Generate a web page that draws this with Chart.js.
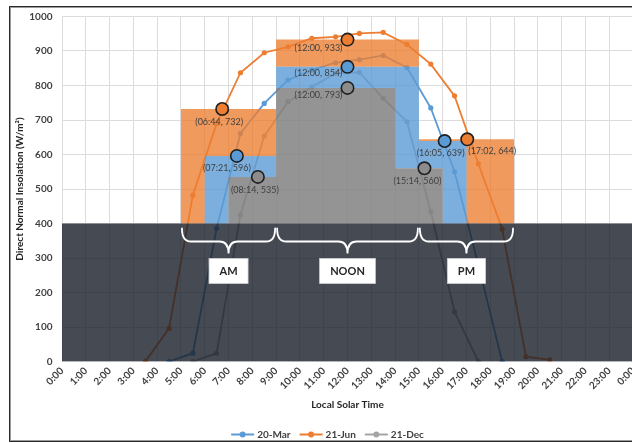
<!DOCTYPE html>
<html>
<head>
<meta charset="utf-8">
<script src="https://cdn.jsdelivr.net/npm/chart.js@4.4.1/dist/chart.umd.min.js"></script>
<style>
  html, body { margin: 0; padding: 0; overflow: hidden; background: #fff; }
  #wrap { position: relative; width: 655px; height: 443px; }
</style>
</head>
<body>
<div id="wrap"><canvas id="chart" width="655" height="443"></canvas></div>
<script>
// Direct normal insolation (W/m²) sampled at the half hour, local solar time
const junHours  = [3.5, 4.5, 5.5, 6.5, 7.5, 8.5, 9.5, 10.5, 11.5, 12.5, 13.5, 14.5, 15.5, 16.5, 17.5, 18.5, 19.5, 20.5];
const junValues = [0, 96, 482, 690, 837, 895, 912, 937, 941, 951, 954, 919, 862, 770, 573, 384, 14, 5];

const marHours  = [4.5, 5.5, 6.5, 7.5, 8.5, 9.5, 10.5, 11.5, 12.5, 13.5, 14.5, 15.5, 16.5, 17.5, 18.5];
const marValues = [0, 24, 386, 661, 748, 816, 845, 866, 875, 887, 852, 735, 550, 280, 0];

const decHours  = [5.5, 6.5, 7.5, 8.5, 9.5, 10.5, 11.5, 12.5, 13.5, 14.5, 15.5, 16.5, 17.5];
const decValues = [0, 24, 425, 653, 753, 796, 835, 838, 763, 695, 434, 144, 0];

// Operating blocks (AM / NOON / PM): start hour, end hour, insolation level
const periodNames = ['AM', 'NOON', 'PM'];
const junStart = [5, 9, 15];  const junEnd = [9, 15, 19];  const junLevel = [732, 933, 644];
const marStart = [6, 9, 15];  const marEnd = [9, 15, 17];  const marLevel = [596, 854, 639];
const decStart = [7, 9, 14];  const decEnd = [9, 14, 16];  const decLevel = [535, 793, 560];

// Time at which each day meets its block level
const junTimes = ['06:44', '12:00', '17:02'];
const marTimes = ['07:21', '12:00', '16:05'];
const decTimes = ['08:14', '12:00', '15:14'];

// Insolation below this level is shaded out
const shadeLevel = 400;

const hourLabels = ['0:00', '1:00', '2:00', '3:00', '4:00', '5:00', '6:00', '7:00', '8:00', '9:00', '10:00', '11:00',
  '12:00', '13:00', '14:00', '15:00', '16:00', '17:00', '18:00', '19:00', '20:00', '21:00', '22:00', '23:00', '0:00'];

const seriesNames = ['20-Mar', '21-Jun', '21-Dec'];

const BLUE = '#5B9BD5', ORANGE = '#ED7D31', GRAY = '#A5A5A5';
const FONT = 'Lato, "Open Sans", "Liberation Sans", sans-serif';

const toHours = t => { const [h, m] = t.split(':').map(Number); return h + m / 60; };
const pts = (xs, ys) => xs.map((x, i) => ({ x, y: ys[i] }));

// Level markers: June, March, December in that order
const markerTimes  = [...junTimes, ...marTimes, ...decTimes];
const markerLevels = [...junLevel, ...marLevel, ...decLevel];
const markerColors = [ORANGE, ORANGE, ORANGE, BLUE, BLUE, BLUE, '#8C8C8C', '#8C8C8C', '#8C8C8C'];
const markerPoints = markerTimes.map((t, i) => ({ x: toHours(t), y: markerLevels[i] }));
// label placement around each marker
const labelPlace = [
  { align: 'center', dx: -3, dy: 13 }, { align: 'right', dx: -5, dy: 8.5 }, { align: 'left', dx: 1, dy: 12 },
  { align: 'center', dx: -10, dy: 12.5 }, { align: 'right', dx: -5, dy: 6 }, { align: 'center', dx: -4, dy: 12.5 },
  { align: 'center', dx: -3, dy: 13 }, { align: 'right', dx: -5, dy: 7.5 }, { align: 'center', dx: -7, dy: 12.5 }
];

const MARKER_INDEX = 3;

function lineSeries(label, xs, ys, color) {
  return {
    label, data: pts(xs, ys), borderColor: color, backgroundColor: color,
    borderWidth: 1.8, pointRadius: 2.6, pointBorderWidth: 0, pointBackgroundColor: color,
    tension: 0, order: 5
  };
}

// Shaded blocks and the low-insolation band, painted over the curves
const blocksPlugin = {
  id: 'blocks',
  beforeDatasetDraw(chart, args) {
    if (args.index !== MARKER_INDEX) return;
    const { ctx, chartArea: a, scales: { x, y } } = chart;
    const px = v => x.getPixelForValue(v), py = v => y.getPixelForValue(v);
    const block = (start, end, level) => {
      ctx.moveTo(px(start[0]), py(shadeLevel));
      start.forEach((s, i) => {
        ctx.lineTo(px(s), py(level[i]));
        ctx.lineTo(px(end[i]), py(level[i]));
      });
      ctx.lineTo(px(end[end.length - 1]), py(shadeLevel));
      ctx.closePath();
    };
    ctx.save();
    ctx.beginPath();
    ctx.rect(a.left, a.top, a.right - a.left, a.bottom - a.top);
    ctx.clip();

    ctx.fillStyle = 'rgba(237,125,49,0.78)';
    ctx.beginPath(); block(junStart, junEnd, junLevel); block(marStart, marEnd, marLevel); ctx.fill('evenodd');
    ctx.fillStyle = 'rgba(91,155,213,0.8)';
    ctx.beginPath(); block(marStart, marEnd, marLevel); block(decStart, decEnd, decLevel); ctx.fill('evenodd');
    ctx.fillStyle = 'rgba(128,128,128,0.84)';
    ctx.beginPath(); block(decStart, decEnd, decLevel); ctx.fill();

    ctx.fillStyle = 'rgba(22,29,40,0.8)';
    const x0 = px(x.min), x1 = px(x.max);
    ctx.fillRect(x0, py(shadeLevel), x1 - x0, py(0) - py(shadeLevel));
    ctx.restore();
  }
};

// Braces with AM / NOON / PM tags, marker labels
const annotatePlugin = {
  id: 'annotate',
  afterDatasetsDraw(chart) {
    const { ctx, scales: { x, y } } = chart;
    const px = v => x.getPixelForValue(v), py = v => y.getPixelForValue(v);
    ctx.save();

    // braces span the widest (June) blocks
    const yTop = py(shadeLevel) + 5, yMid = yTop + 13, yTip = yMid + 12, r = 9;
    ctx.lineCap = 'round';
    periodNames.forEach((name, i) => {
      const xa = px(junStart[i]) + 1, xb = px(junEnd[i]) - 1, xc = (xa + xb) / 2;
      ctx.strokeStyle = '#FFFFFF';
      ctx.lineWidth = 1.8;
      ctx.beginPath();
      ctx.moveTo(xa, yTop);
      ctx.quadraticCurveTo(xa, yMid, xa + r, yMid);
      ctx.lineTo(xc - r, yMid);
      ctx.quadraticCurveTo(xc, yMid, xc, yTip);
      ctx.quadraticCurveTo(xc, yMid, xc + r, yMid);
      ctx.lineTo(xb - r, yMid);
      ctx.quadraticCurveTo(xb, yMid, xb, yTop);
      ctx.stroke();

      ctx.font = 'bold 11px ' + FONT;
      const w = ctx.measureText(name).width + 21, h = 25, bt = yTip + 5;
      ctx.fillStyle = '#FFFFFF';
      ctx.fillRect(xc - w / 2, bt, w, h);
      ctx.strokeStyle = '#D0D0D0';
      ctx.lineWidth = 0.8;
      ctx.strokeRect(xc - w / 2, bt, w, h);
      ctx.fillStyle = '#262626';
      ctx.textAlign = 'center';
      ctx.textBaseline = 'middle';
      ctx.fillText(name, xc, bt + h / 2 + 0.5);
    });

    // marker labels
    ctx.font = '9px ' + FONT;
    ctx.fillStyle = '#404040';
    ctx.textBaseline = 'middle';
    markerPoints.forEach((p, i) => {
      const pl = labelPlace[i];
      ctx.textAlign = pl.align;
      ctx.fillText('(' + markerTimes[i] + ', ' + markerLevels[i] + ')', px(p.x) + pl.dx, py(p.y) + pl.dy);
    });
    ctx.restore();
  },
  afterDraw(chart) {
    const { ctx } = chart;
    ctx.save();
    // legend
    const cols = [BLUE, ORANGE, GRAY];
    ctx.font = 'bold 10px ' + FONT;
    const lineLen = 23, gap = 3, itemGap = 9;
    const widths = seriesNames.map(n => lineLen + gap + ctx.measureText(n).width);
    const total = widths.reduce((s, w) => s + w, 0) + itemGap * (widths.length - 1);
    let cx = chart.width / 2 - total / 2;
    const ly = 434.5;
    seriesNames.forEach((n, i) => {
      ctx.strokeStyle = cols[i];
      ctx.lineWidth = 2;
      ctx.beginPath(); ctx.moveTo(cx, ly); ctx.lineTo(cx + lineLen, ly); ctx.stroke();
      ctx.fillStyle = cols[i];
      ctx.beginPath(); ctx.arc(cx + lineLen / 2, ly, 3, 0, Math.PI * 2); ctx.fill();
      ctx.fillStyle = '#404040';
      ctx.textAlign = 'left';
      ctx.textBaseline = 'middle';
      ctx.fillText(n, cx + lineLen + gap, ly);
      cx += widths[i] + itemGap;
    });
    // chart frame
    ctx.strokeStyle = '#2b2b2b';
    ctx.lineWidth = 1;
    ctx.strokeRect(9.5, 6.5, chart.width - 19, 435);
    ctx.strokeStyle = '#9a9a9a';
    ctx.strokeRect(10.5, 7.5, chart.width - 21, 433);
    ctx.restore();
  }
};

new Chart(document.getElementById('chart'), {
  type: 'line',
  data: {
    datasets: [
      lineSeries(seriesNames[0], marHours, marValues, BLUE),
      lineSeries(seriesNames[1], junHours, junValues, ORANGE),
      lineSeries(seriesNames[2], decHours, decValues, GRAY),
      {
        label: 'levels', data: markerPoints, showLine: false,
        pointRadius: 6.2, pointBorderWidth: 1.6, pointBorderColor: '#1f1f1f',
        pointBackgroundColor: markerColors, order: 0
      }
    ]
  },
  options: {
    responsive: false,
    animation: false,
    events: [],
    layout: { padding: { left: 12, top: 16.5, right: 22, bottom: 30 } },
    plugins: { legend: { display: false }, tooltip: { enabled: false } },
    scales: {
      x: {
        type: 'linear', min: 0, max: 24,
        afterFit: s => { s.height = 51.5; },
        ticks: {
          stepSize: 1, autoSkip: false, maxRotation: 45, minRotation: 45, padding: 3.5,
          color: '#404040', font: { family: FONT, size: 10, weight: 'bold' },
          callback: v => hourLabels[v]
        },
        grid: { color: '#DCDCDC', lineWidth: 1, drawTicks: false },
        border: { display: false },
        title: {
          display: true, text: 'Local Solar Time', color: '#262626',
          font: { family: FONT, size: 10, weight: 'bold' }, padding: { top: 0, bottom: 2 }
        }
      },
      y: {
        min: 0, max: 1000,
        afterFit: s => { s.width = 50; },
        ticks: {
          stepSize: 100, padding: 9.5, color: '#404040', font: { family: FONT, size: 10, weight: 'bold' },
          callback: v => String(v)
        },
        grid: { color: '#DCDCDC', lineWidth: 1, drawTicks: false },
        border: { display: false },
        title: {
          display: true, text: 'Direct Normal Insolation (W/m\u00B2)', color: '#262626',
          font: { family: FONT, size: 10, weight: 'bold' }, padding: { top: 2, bottom: 0 }
        }
      }
    }
  },
  plugins: [blocksPlugin, annotatePlugin]
});
</script>
</body>
</html>
